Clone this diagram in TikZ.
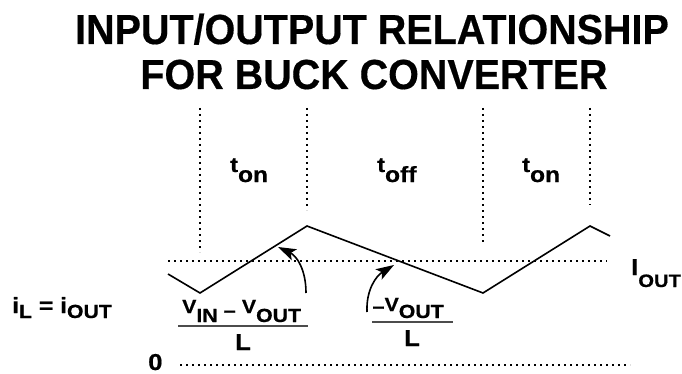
\documentclass[tikz,border=0pt]{standalone}
\usepackage{fontspec}
\setmainfont{Liberation Sans}[FakeStretch=0.94,FakeBold=0.4]
\newfontfamily\lf{Liberation Sans}[FakeStretch=1.12,FakeBold=0.6]
\usetikzlibrary{arrows.meta}
\newcommand\sbx[3]{\raisebox{-#1}{\fontsize{#2}{#2}\selectfont #3}}
\begin{document}
\begin{tikzpicture}[x=1pt,y=-1pt,
  dots/.style={line width=1.8pt,dash pattern=on 1.8pt off 4.2pt},
  wave/.style={line width=1.6pt,line join=miter},
  bar/.style={line width=1.4pt,black!70},
  curvarrow/.style={line width=1.6pt,-{Stealth[length=18pt,width=12pt,inset=4pt]}},
  lbl/.style={inner sep=0pt,font=\lf\bfseries\fontsize{21}{21}\selectfont},
  sml/.style={inner sep=0pt,font=\lf\bfseries\fontsize{19}{19}\selectfont},
  ttl/.style={inner sep=0pt,font=\bfseries\fontsize{42}{42}\selectfont}]
\useasboundingbox (0,0) rectangle (682,374);
% title
\node[ttl,anchor=base] (t1) at (372,44) {INPUT/OUTPUT RELATIONSHIP};
\node[ttl,anchor=base] (t2) at (374,89) {FOR BUCK CONVERTER};
% vertical dotted lines
\coordinate (v1a) at (200,108); \coordinate (v1b) at (200,252);
\coordinate (v2a) at (307,108); \coordinate (v2b) at (307,210);
\coordinate (v3a) at (483,108); \coordinate (v3b) at (483,244);
\coordinate (v4a) at (590,108); \coordinate (v4b) at (590,205);
\draw[dots] (v1a) -- (v1b);
\draw[dots] (v2a) -- (v2b);
\draw[dots] (v3a) -- (v3b);
\draw[dots] (v4a) -- (v4b);
% horizontal dotted lines
\coordinate (h1a) at (168,261); \coordinate (h1b) at (607,261);
\coordinate (h0a) at (180,365); \coordinate (h0b) at (630,365);
\draw[dots] (h1a) -- (h1b);
\draw[dots] (h0a) -- (h0b);
% waveform
\coordinate (w0) at (168,274);
\coordinate (w1) at (200,293);
\coordinate (w2) at (307,226);
\coordinate (w3) at (483,293);
\coordinate (w4) at (590,226);
\coordinate (w5) at (610,236);
\draw[wave] (w0) -- (w1) -- (w2) -- (w3) -- (w4) -- (w5);
% interval labels
\node[lbl,anchor=base west] (ton1) at (230,172) {t\sbx{10pt}{22}{on}};
\node[lbl,anchor=base west] (toff) at (377,172) {t\sbx{10pt}{22}{off}};
\node[lbl,anchor=base west] (ton2) at (522,172) {t\sbx{10pt}{22}{on}};
% level labels
\node[lbl,anchor=base west] (iout) at (631,275) {\fontsize{23}{23}\selectfont I\sbx{12pt}{18}{OUT}};
\node[lbl,anchor=base west] (il) at (12,313) {\fontsize{22}{22}\selectfont i\sbx{5pt}{19}{L} = i\sbx{5pt}{19}{OUT}};
\node[lbl,anchor=base west] (zero) at (148,370) {\fontsize{23}{23}\selectfont 0};
% fraction 1
\node[sml,anchor=base west] (n1) at (182,313) {V\sbx{9pt}{19}{IN} \sbx{5pt}{19}{−} V\sbx{9pt}{19}{OUT}};
\coordinate (b1a) at (178,326); \coordinate (b1b) at (308,326);
\draw[bar] (b1a) -- (b1b);
\node[lbl,anchor=base] (d1) at (243,350) {\fontsize{23}{23}\selectfont L};
% fraction 2
\node[sml,anchor=base west] (n2) at (372,311) {\sbx{3pt}{19}{−}V\sbx{7pt}{19}{OUT}};
\coordinate (b2a) at (372,322); \coordinate (b2b) at (453,322);
\draw[bar] (b2a) -- (b2b);
\node[lbl,anchor=base] (d2) at (412,346) {\fontsize{23}{23}\selectfont L};
% arrows
\coordinate (a1s) at (306,293); \coordinate (a1e) at (278,247);
\coordinate (a2s) at (367,312); \coordinate (a2e) at (394,265);
\draw[curvarrow] (a1s) .. controls (306,270) and (297,256) .. (a1e);
\draw[curvarrow] (a2s) .. controls (366,290) and (376,276) .. (a2e);
\end{tikzpicture}
\end{document}
